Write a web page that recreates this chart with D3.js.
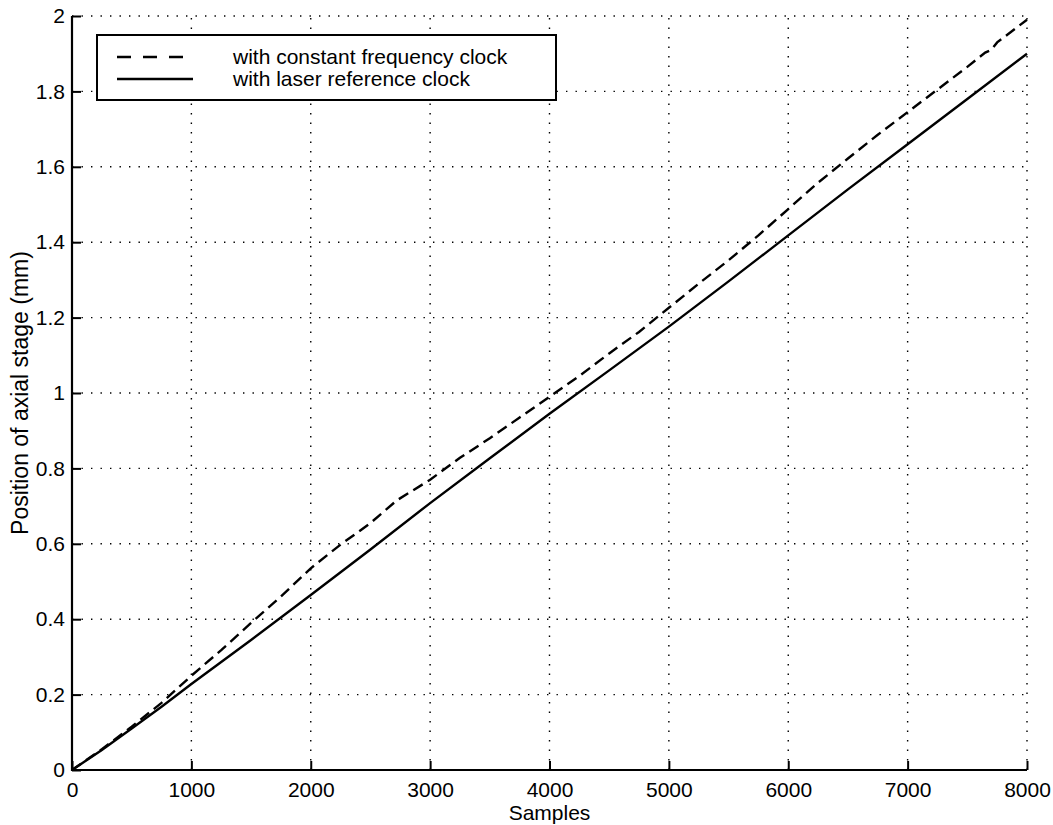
<!DOCTYPE html>
<html><head><meta charset="utf-8">
<script src="https://cdn.jsdelivr.net/npm/d3@7"></script>
<style>
html,body{margin:0;padding:0;background:#fff;}
text{font-family:"Liberation Sans",Arial,Helvetica,sans-serif;fill:#000;}
</style></head>
<body>
<svg id="chart" width="1053" height="825"></svg>
<script>
// Data
const samplesConst = [0, 250, 500, 750, 1000, 1250, 1500, 1750, 2000, 2250, 2400, 2500, 2720, 3000, 3250, 3500, 3750, 4000, 4250, 4500, 4750, 5000, 5250, 5500, 5750, 6000, 6250, 6500, 6750, 7000, 7250, 7500, 7650, 7700, 7750, 8000];
const posConst    = [0, 0.055, 0.115, 0.178, 0.25, 0.318, 0.39, 0.46, 0.535, 0.598, 0.632, 0.655, 0.715, 0.77, 0.828, 0.88, 0.935, 0.99, 1.045, 1.105, 1.162, 1.226, 1.29, 1.352, 1.418, 1.488, 1.558, 1.622, 1.685, 1.745, 1.805, 1.865, 1.903, 1.91, 1.93, 1.99];
const samplesLaser = [0, 250, 500, 750, 1000, 1500, 2000, 2500, 3000, 3500, 4000, 4500, 5000, 5500, 6000, 6500, 7000, 7500, 8000];
const posLaser     = [0, 0.053, 0.11, 0.168, 0.228, 0.345, 0.464, 0.585, 0.708, 0.827, 0.945, 1.06, 1.176, 1.296, 1.418, 1.54, 1.66, 1.78, 1.9];
const xTicks = [0, 1000, 2000, 3000, 4000, 5000, 6000, 7000, 8000];
const yTicks = [0, 0.2, 0.4, 0.6, 0.8, 1, 1.2, 1.4, 1.6, 1.8, 2];
const seriesNames = ["with constant frequency clock", "with laser reference clock"];
const xLabel = "Samples";
const yLabel = "Position of axial stage (mm)";

const svg = d3.select("#chart");
const L = 72, R = 1027, T = 16, B = 770;
const x = d3.scaleLinear().domain([0, 8000]).range([L, R]);
const y = d3.scaleLinear().domain([0, 2]).range([B, T]);

// grid
const grid = svg.append("g");
grid.selectAll("line.gx").data(xTicks.filter(d => d > 0)).join("line")
  .attr("x1", d => x(d)).attr("x2", d => x(d)).attr("y1", B).attr("y2", T)
  .attr("stroke", "#000").attr("stroke-width", 1.4).attr("stroke-dasharray", "1.4,8.1");
grid.selectAll("line.gy").data(yTicks.filter(d => d > 0)).join("line")
  .attr("y1", d => y(d)).attr("y2", d => y(d)).attr("x1", L).attr("x2", R)
  .attr("stroke", "#000").attr("stroke-width", 1.4).attr("stroke-dasharray", "1.4,8.1");

// axes
const xAxis = d3.axisBottom(x).tickValues(xTicks).tickSize(-9).tickPadding(12).tickFormat(d3.format("d"));
const yAxis = d3.axisLeft(y).tickValues(yTicks).tickSize(-9).tickPadding(7).tickFormat(d => d3.format("")(d));
const gx = svg.append("g").attr("transform", `translate(0,${B})`).call(xAxis);
const gy = svg.append("g").attr("transform", `translate(${L},0)`).call(yAxis);
[gx, gy].forEach(g => {
  g.select(".domain").remove();
  g.selectAll(".tick line").attr("stroke", "#000").attr("stroke-width", 2);
  g.selectAll(".tick text").attr("font-size", 21).attr("font-family", "Liberation Sans, Arial, sans-serif").attr("fill", "#000");
});
svg.append("line").attr("x1", L).attr("x2", R).attr("y1", B).attr("y2", B).attr("stroke", "#000").attr("stroke-width", 2.2);
svg.append("line").attr("x1", L).attr("x2", L).attr("y1", B + 1).attr("y2", T).attr("stroke", "#000").attr("stroke-width", 2.2);
gx.selectAll(".tick text").attr("dy", "0.71em");

// lines
const lineGen = d3.line().x(d => x(d[0])).y(d => y(d[1]));
svg.append("path").datum(samplesConst.map((s, i) => [s, posConst[i]]))
  .attr("d", lineGen).attr("fill", "none").attr("stroke", "#000").attr("stroke-width", 2.4)
  .attr("stroke-dasharray", "11,6");
svg.append("path").datum(samplesLaser.map((s, i) => [s, posLaser[i]]))
  .attr("d", lineGen).attr("fill", "none").attr("stroke", "#000").attr("stroke-width", 2.4);

// labels
svg.append("text").attr("x", (L + R) / 2).attr("y", 820).attr("text-anchor", "middle")
  .attr("font-size", 21).text(xLabel);
svg.append("text").attr("transform", `translate(28,${(T + B) / 2}) rotate(-90)`).attr("text-anchor", "middle")
  .attr("font-size", 23).text(yLabel);

// legend
const lg = svg.append("g");
lg.append("rect").attr("x", 97).attr("y", 35).attr("width", 459).attr("height", 65)
  .attr("fill", "#fff").attr("stroke", "#000").attr("stroke-width", 2);
const rows = [57, 79];
lg.append("line").attr("x1", 117).attr("x2", 184).attr("y1", rows[0]).attr("y2", rows[0])
  .attr("stroke", "#000").attr("stroke-width", 2.4).attr("stroke-dasharray", "14,12");
lg.append("line").attr("x1", 117).attr("x2", 193).attr("y1", rows[1]).attr("y2", rows[1])
  .attr("stroke", "#000").attr("stroke-width", 2.4);
lg.selectAll("text.lt").data(seriesNames).join("text")
  .attr("x", 233).attr("y", (d, i) => rows[i]).attr("dy", "0.35em")
  .attr("font-size", 21).text(d => d);
</script>
</body></html>
